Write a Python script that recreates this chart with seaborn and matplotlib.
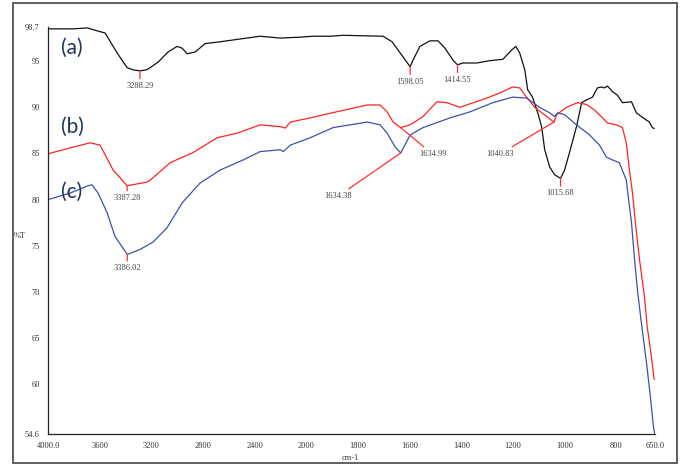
import numpy as np
import pandas as pd
import matplotlib
matplotlib.use("Agg")
import matplotlib.pyplot as plt
from matplotlib.patches import Rectangle
import seaborn as sns

# ---- spectra: wavenumber (cm-1) and transmittance (%T) ----
wn_a = [4000, 3900, 3800, 3750, 3690, 3674, 3558, 3465, 3388, 3340, 3288.29, 3240,
        3225, 3147, 3070, 3000, 2961, 2922, 2860, 2783, 2667, 2512, 2357, 2202,
        2047, 1973, 1907, 1857, 1703, 1668, 1637, 1598.05, 1587, 1560, 1521, 1490,
        1463, 1432, 1414.55, 1394, 1340, 1290, 1239, 1205, 1189, 1174, 1154, 1143,
        1124, 1104, 1089, 1077, 1058, 1039, 1015.68, 1000, 981, 954, 934, 915, 892,
        873, 857, 846, 834, 815, 795, 776, 741, 722, 703, 672, 660, 653]
pt_a = [98.5, 98.5, 98.5, 98.55, 98.6, 98.5, 98.05, 95.9, 94.3, 94.05, 93.95, 94.05,
        94.15, 94.9, 96.0, 96.6, 96.4, 95.8, 96.0, 96.9, 97.1, 97.4, 97.7, 97.5,
        97.6, 97.7, 97.7, 97.8, 97.7, 97.1, 95.9, 94.4, 95.1, 96.6, 97.2, 97.2,
        96.4, 95.1, 94.6, 94.8, 94.8, 95.05, 95.2, 96.2, 96.6, 95.9, 94.05, 91.9,
        91.1, 89.4, 87.9, 85.4, 83.55, 82.7, 82.3, 83.2, 85.1, 87.9, 90.5, 90.8, 91.1,
        92.1, 92.2, 92.1, 92.3, 91.7, 91.3, 90.5, 90.6, 89.4, 89.0, 88.4, 87.8, 87.7]

wn_b = [4000, 3829, 3674, 3597, 3496, 3387.28, 3233, 3209, 3054, 2876, 2690, 2535,
        2357, 2202, 2163, 2124, 1985, 1900, 1764, 1714, 1687, 1664, 1634.99, 1598,
        1548, 1494, 1456, 1405, 1301, 1251, 1201, 1174, 1147, 1116, 1069, 1040.83,
        1031, 992, 950, 915, 884, 853, 834, 799, 776, 761, 749, 737, 726, 710, 691,
        680, 664, 653]
pt_b = [84.96, 85.6, 86.15, 85.9, 83.2, 81.5, 81.9, 82.1, 84.0, 85.1, 86.7, 87.2,
        88.1, 87.9, 87.75, 88.4, 88.85, 89.4, 90.25, 90.25, 89.5, 88.4, 87.8, 88.1,
        89.0, 90.6, 90.5, 90.0, 91.0, 91.55, 92.2, 92.1, 91.1, 90.0, 89.0, 88.4,
        89.2, 90.0, 90.5, 90.3, 89.7, 88.85, 88.3, 88.1, 87.8, 86.1, 83.2, 80.7,
        77.5, 73.5, 69.5, 66.2, 63.0, 60.5]

wn_c = [4000, 3829, 3690, 3659, 3612, 3543, 3481, 3386.02, 3287, 3186, 3078, 2961,
        2822, 2667, 2488, 2357, 2202, 2178, 2124, 1985, 1896, 1764, 1714, 1687,
        1656, 1634.38, 1598, 1548, 1444, 1367, 1278, 1201, 1147, 1097, 1058, 1039,
        1027, 1000, 954, 903, 865, 838, 815, 788, 761, 757, 741, 730, 718, 703, 683,
        668, 656, 650]
pt_c = [80.0, 80.7, 81.5, 81.6, 80.7, 78.6, 76.0, 74.05, 74.6, 75.4, 76.95, 79.65,
        81.8, 83.2, 84.3, 85.2, 85.4, 85.2, 85.9, 86.7, 87.8, 88.4, 88.1, 87.2,
        85.7, 85.05, 87.0, 87.8, 88.85, 89.5, 90.5, 91.1, 91.0, 90.0, 89.4, 89.0,
        89.4, 89.2, 88.1, 87.0, 85.9, 84.6, 84.3, 84.0, 82.1, 81.1, 77.5, 73.8,
        70.2, 66.7, 62.35, 58.65, 55.4, 54.4]

# peak annotations: (sample, wavenumber, label offset in points)
peaks = [
    ("a", 3288.29, (0, -8)),
    ("a", 1598.05, (0, -8)),
    ("a", 1414.55, (0, -8)),
    ("a", 1015.68, (0, -8)),
    ("b", 3387.28, (0, -6)),
    ("b", 1634.99, (23, -19)),
    ("b", 1040.83, (-39, -23)),
    ("c", 3386.02, (0, -7)),
    ("c", 1634.38, (-45, -31)),
]

tick_values = [4000, 3600, 3200, 2800, 2400, 2000, 1800, 1600, 1400, 1200, 1000, 800, 650]
tick_labels = ["4000.0", "3600", "3200", "2800", "2400", "2000", "1800", "1600",
               "1400", "1200", "1000", "800", "650.0"]
ytick_values = [98.7, 95, 90, 85, 80, 75, 70, 65, 60, 54.6]
ytick_labels = ["98.7", "95", "90", "85", "80", "75", "70", "65", "60", "54.6"]

colors = {"a": "#111111", "b": "#ff2424", "c": "#3b52a8"}
series = {"a": (wn_a, pt_a), "b": (wn_b, pt_b), "c": (wn_c, pt_c)}

df = pd.concat(
    [pd.DataFrame({"wn": w, "T": t, "sample": k}) for k, (w, t) in series.items()],
    ignore_index=True,
)

sns.set_style("white")
plt.rcParams["font.family"] = ["Liberation Serif", "DejaVu Serif"]

fig = plt.figure(figsize=(6.84, 4.65), dpi=100)
ax = fig.add_axes([48 / 684, 1 - 434 / 465, (655 - 48) / 684, (434 - 27) / 465])

sns.lineplot(data=df, x="wn", y="T", hue="sample", palette=colors,
             estimator=None, sort=False, lw=0.9, legend=False, ax=ax)


# wavenumber axis: scale doubles below 2000 cm-1
def _fwd(x):
    x = np.asarray(x, dtype=float)
    return np.where(x <= 2000, x - 2000, (x - 2000) / 2.0)


def _inv(u):
    u = np.asarray(u, dtype=float)
    return np.where(u <= 0, u + 2000, 2.0 * u + 2000)


ax.set_xscale("function", functions=(_fwd, _inv))
ax.set_xlim(4000, 650)
ax.set_ylim(54.6, 98.7)

ax.set_xticks(tick_values)
ax.set_xticklabels(tick_labels)
ax.set_yticks(ytick_values)
ax.set_yticklabels(ytick_labels)
ax.minorticks_off()
ax.tick_params(axis="both", direction="out", length=3, width=0.8, color="#222222",
               labelsize=6, labelcolor="#333333", pad=3)
ax.tick_params(axis="x", pad=3)
ax.set_xlabel("")
ax.set_ylabel("")

for side in ("top", "right"):
    ax.spines[side].set_visible(False)
for side in ("left", "bottom"):
    ax.spines[side].set_color("#222222")
    ax.spines[side].set_linewidth(0.9)

# peak markers
for key, pos, off in peaks:
    w, t = series[key]
    order = np.argsort(w)
    val = float(np.interp(pos, np.asarray(w)[order], np.asarray(t)[order]))
    ax.annotate(f"{pos:.2f}", xy=(pos, val), xytext=off, textcoords="offset points",
                ha="center", va="top" if off[0] == 0 else "center",
                fontsize=6, color="#444444",
                arrowprops=dict(arrowstyle="-", color="#ff3030", lw=0.9,
                                shrinkA=0, shrinkB=0))

# sample labels
for lab, ypx in (("(a)", 48), ("(b)", 127), ("(c)", 192)):
    fig.text(61 / 684, 1 - ypx / 465, lab, ha="left", va="center",
             fontsize=15, color="#1f3558", family=["Lato", "DejaVu Sans"])

fig.text(20 / 684, 1 - 236 / 465, "%T", ha="center", va="center",
         fontsize=6, color="#333333")
fig.text(350 / 684, 1 - 458 / 465, "cm-1", ha="center", va="center",
         fontsize=6, color="#333333")

# outer frame
fig.patches.append(Rectangle((13 / 684, 2 / 465), (677 - 13) / 684, (462 - 2) / 465,
                             transform=fig.transFigure, fill=False,
                             edgecolor="#444444", lw=1.2))

fig.savefig("out.png", dpi=100)
